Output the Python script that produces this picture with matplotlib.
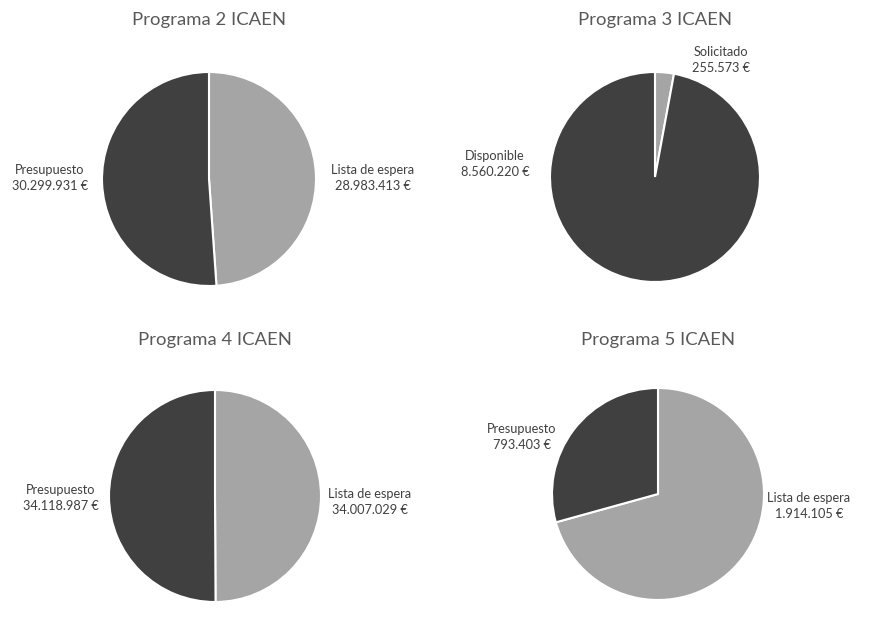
import matplotlib.pyplot as plt

plt.rcParams['font.family'] = ['Lato', 'DejaVu Sans']

# data
titles = ['Programa 2 ICAEN', 'Programa 3 ICAEN', 'Programa 4 ICAEN', 'Programa 5 ICAEN']
labels_p2 = ['Lista de espera', 'Presupuesto']
values_p2 = [28983413, 30299931]
labels_p3 = ['Solicitado', 'Disponible']
values_p3 = [255573, 8560220]
labels_p4 = ['Lista de espera', 'Presupuesto']
values_p4 = [34007029, 34118987]
labels_p5 = ['Lista de espera', 'Presupuesto']
values_p5 = [1914105, 793403]

all_labels = [labels_p2, labels_p3, labels_p4, labels_p5]
all_values = [values_p2, values_p3, values_p4, values_p5]

# layout in pixels (center x, center y, radius, title y, label positions)
W, H = 886, 630
centers = [(209, 179, 107), (655, 177, 105), (215, 496, 106), (658, 494, 106)]
title_y = [20, 20, 340, 340]
label_pos = [
    [(373, 178), (50, 178)],
    [(721, 60), (495, 164)],
    [(370, 502), (61, 498)],
    [(809, 506), (522, 437)],
]

colors = ['#a5a5a5', '#404040']


def fmt(v):
    return '{:,}'.format(v).replace(',', '.') + ' €'


fig = plt.figure(figsize=(W / 100, H / 100), dpi=100)

for i in range(4):
    cx, cy, r = centers[i]
    ax = fig.add_axes([(cx - r) / W, 1 - (cy + r) / H, 2 * r / W, 2 * r / H])
    ax.pie(all_values[i], colors=colors, startangle=90, counterclock=False,
           wedgeprops=dict(edgecolor='white', linewidth=1.5))
    ax.set_xlim(-1, 1)
    ax.set_ylim(-1, 1)
    ax.set_aspect('auto')
    ax.axis('off')
    for lab, val, (lx, ly) in zip(all_labels[i], all_values[i], label_pos[i]):
        fig.text(lx / W, 1 - ly / H, lab + '\n' + fmt(val), ha='center', va='center',
                 fontsize=9.2, color='#404040', linespacing=1.45)
    fig.text(cx / W, 1 - title_y[i] / H, titles[i], ha='center', va='center',
             fontsize=13.3, color='#595959')

fig.savefig('out.png', dpi=100, facecolor='white')
